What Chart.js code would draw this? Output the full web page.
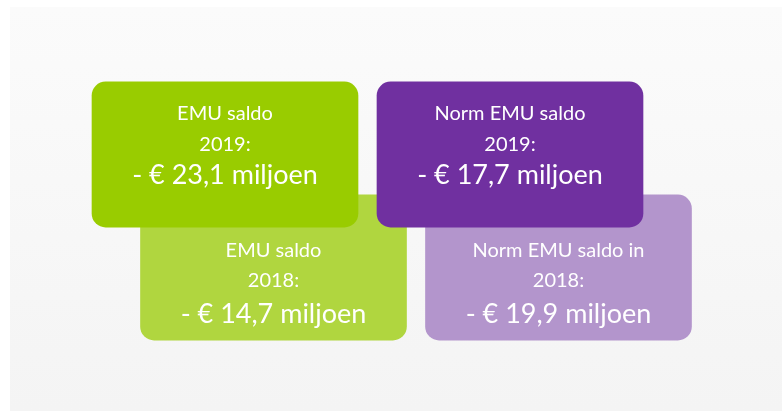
<!DOCTYPE html>
<html>
<head>
<meta charset="utf-8">
<script src="https://cdn.jsdelivr.net/npm/chart.js@4.4.1/dist/chart.umd.min.js"></script>
<style>
  html, body { margin: 0; padding: 0; background: #ffffff; }
  #wrap { width: 782px; height: 414px; }
</style>
</head>
<body>
<div id="wrap"><canvas id="chart" width="782" height="414"></canvas></div>
<script>
// columns of the infographic, one value per year
const columns = ['EMU saldo', 'Norm EMU saldo'];
const years = ['2019', '2018'];
const saldo2019 = [-23.1, -17.7];
const saldo2018 = [-14.7, -19.9];
const titles2019 = ['EMU saldo', 'Norm EMU saldo'];
const titles2018 = ['EMU saldo', 'Norm EMU saldo in'];

// layout (not data)
const ROW = [0, 1];
const BOX_HALF = 0.642;
const colors2019 = ['#99cc00', '#7030a0'];
const colors2018 = ['#b0d63f', '#b395cc'];
const LINE_OFFSETS = [[38, 69, 102], [62, 92, 128]];
const FONT = 'Lato, "DejaVu Sans", sans-serif';

const formatValue = (v) => `- € ${Math.abs(v).toFixed(1).replace('.', ',')} miljoen`;

const makeData = (values, row) => values.map((v, i) => ({
  x: i,
  y: [row - BOX_HALF, row + BOX_HALF],
  value: v,
}));

const backgroundPlugin = {
  id: 'panelBackground',
  beforeDraw(chart) {
    const { ctx, width, height } = chart;
    ctx.save();
    ctx.fillStyle = '#ffffff';
    ctx.fillRect(0, 0, width, height);
    const grad = ctx.createLinearGradient(0, 7, 0, 411);
    grad.addColorStop(0, '#fbfbfb');
    grad.addColorStop(1, '#f4f4f4');
    ctx.fillStyle = grad;
    ctx.fillRect(10, 7, width - 10, 404);
    ctx.restore();
  },
};

const labelPlugin = {
  id: 'boxLabels',
  afterDatasetsDraw(chart) {
    const ctx = chart.ctx;
    ctx.save();
    ctx.fillStyle = '#ffffff';
    ctx.textAlign = 'center';
    ctx.textBaseline = 'alphabetic';
    chart.data.datasets.forEach((ds, di) => {
      const meta = chart.getDatasetMeta(di);
      meta.data.forEach((el, i) => {
        const top = Math.min(el.y, el.base);
        const offs = LINE_OFFSETS[di];
        const lines = [
          { text: ds.titles[i], size: 20 },
          { text: `${ds.label}:`, size: 20 },
          { text: formatValue(ds.data[i].value), size: 27 },
        ];
        lines.forEach((line, li) => {
          ctx.font = `${line.size}px ${FONT}`;
          ctx.fillText(line.text, el.x, top + offs[li]);
        });
      });
    });
    ctx.restore();
  },
};

new Chart(document.getElementById('chart'), {
  type: 'bar',
  data: {
    datasets: [
      {
        label: years[0],
        data: makeData(saldo2019, ROW[0]),
        titles: titles2019,
        backgroundColor: colors2019,
        xAxisID: 'x',
      },
      {
        label: years[1],
        data: makeData(saldo2018, ROW[1]),
        titles: titles2018,
        backgroundColor: colors2018,
        xAxisID: 'x2',
      },
    ],
  },
  options: {
    responsive: false,
    animation: false,
    layout: { padding: 0 },
    datasets: {
      bar: {
        barThickness: 266,
        grouped: false,
        borderRadius: 14,
        borderSkipped: false,
        borderWidth: 0,
      },
    },
    scales: {
      x: { type: 'linear', display: false, offset: false, min: -225 / 285, max: 557 / 285 },
      x2: { type: 'linear', display: false, offset: false, min: -273.5 / 285, max: 508.5 / 285 },
      y: { type: 'linear', display: false, reverse: true, min: -154.5 / 113, max: 259.5 / 113 },
    },
    plugins: {
      legend: { display: false },
      tooltip: { enabled: false },
    },
  },
  plugins: [backgroundPlugin, labelPlugin],
});
</script>
</body>
</html>
